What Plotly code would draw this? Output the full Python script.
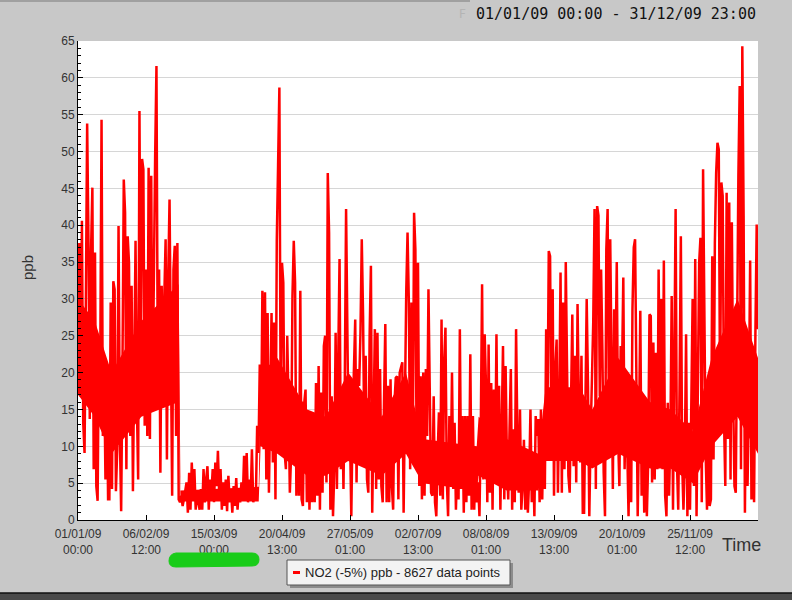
import pandas as pd
import plotly.graph_objects as go

# ---------------- data (NO2 ppb, evenly spaced over 2009) ----------------
no2_jan_feb = [20.5, 37.6, 18.6, 40.6, 13.2, 9.1, 29.5, 53.8, 38.1, 13.7, 36.7, 45.1, 6.9, 36.3,
               4.6, 2.6, 25.0, 20.5, 54.3, 11.4, 20.5, 5.5, 20.5, 2.8, 2.8, 29.5, 4.2, 32.4, 31.3,
               3.9, 9.6, 39.9, 11.4, 1.2, 20.5, 46.2, 41.7, 6.9, 38.5, 34.9, 11.4, 31.8, 3.9, 25.0,
               37.9, 15.9, 5.5, 55.5, 20.5, 49.0, 47.6, 12.8, 34.0, 11.4, 47.8, 11.0, 46.7, 15.9,
               35.8, 49.4, 61.6, 20.5, 34.0, 6.4, 31.8, 15.9, 30.4, 38.1, 8.2, 33.1, 43.5, 18.2,
               3.3, 34.0, 37.2, 11.4, 37.6, 2.8, 2.4, 3.3, 1.9, 2.8, 3.7, 5.1, 1.0, 6.4]
no2_mar_apr = [1.4, 7.8, 3.3, 6.9, 1.4, 3.7, 2.4, 1.4, 4.2, 1.4, 6.9, 2.4, 5.5, 7.3, 1.4, 5.5,
               3.3, 6.9, 2.4, 7.8, 4.6, 9.4, 3.3, 6.9, 1.4, 5.1, 1.9, 5.5, 1.2, 6.0, 2.4, 4.2,
               1.0, 4.6, 1.9, 5.7, 1.4, 4.2, 2.4, 5.1, 2.8, 8.7, 3.7, 9.1, 2.4, 5.5, 2.8, 9.6,
               2.4, 3.3, 2.8, 12.8, 9.1, 21.1, 11.4, 31.1, 9.6, 30.9, 5.5, 28.1, 3.7, 20.5, 28.1,
               7.8, 26.8, 2.8, 37.9, 48.1, 58.7, 13.7, 34.9, 32.2, 9.1, 6.9, 25.0, 15.9, 3.7, 9.1,
               30.4, 37.9, 32.2, 3.3, 15.0, 3.3, 31.1, 2.8, 1.9, 15.9]
no2_may_jun = [17.7, 2.4, 14.3, 1.4, 10.0, 2.4, 9.6, 2.4, 18.6, 3.3, 20.9, 1.4, 17.3, 3.7, 23.6,
               25.0, 5.1, 47.1, 39.0, 1.4, 16.8, 0.5, 6.9, 25.4, 4.2, 21.8, 35.4, 6.9, 16.4, 4.2,
               18.2, 42.2, 25.0, 9.1, 11.4, 0.5, 13.7, 22.3, 27.2, 5.1, 20.5, 18.2, 25.4, 38.1,
               27.7, 9.1, 22.3, 5.5, 3.7, 25.0, 34.5, 1.0, 16.8, 25.9, 4.2, 25.4, 5.5, 20.5, 4.6,
               2.4, 15.9, 26.6, 2.4, 18.2, 2.4, 19.1, 4.6, 1.4, 15.9, 19.3, 19.5, 2.8, 20.0, 20.9,
               21.4, 1.0, 20.5, 30.9, 39.0, 29.5, 6.9, 29.5, 7.8, 41.7, 36.7, 7.3, 34.9, 4.6, 19.5, 2.8]
no2_jul_aug = [20.0, 3.3, 20.5, 11.4, 31.3, 20.0, 3.7, 3.3, 16.8, 2.4, 0.5, 8.7, 14.6, 3.3, 27.2,
               2.8, 21.4, 26.1, 5.5, 0.5, 14.1, 5.5, 20.0, 4.2, 13.2, 1.4, 7.8, 2.8, 25.9, 4.2,
               14.1, 1.0, 14.1, 2.4, 14.1, 3.3, 22.5, 1.4, 14.1, 1.4, 9.1, 2.4, 5.1, 0.5, 12.3,
               32.0, 5.5, 25.2, 18.2, 2.4, 23.8, 3.7, 18.6, 1.4, 17.7, 6.9, 25.2, 5.5, 18.2, 1.4,
               12.8, 23.6, 2.8, 20.9, 7.8, 2.8, 12.3, 20.5, 1.4, 12.3, 2.4, 25.9, 11.4, 3.7, 15.0,
               1.4, 4.6, 10.9, 1.4, 9.6, 1.0, 5.5, 15.0, 2.4, 8.7, 0.5, 14.1, 11.4]
no2_sep_oct = [13.7, 2.4, 15.0, 2.8, 13.7, 4.2, 25.9, 13.7, 36.5, 35.8, 9.1, 31.3, 3.3, 20.5, 24.5,
               3.7, 15.9, 33.6, 3.7, 29.5, 6.9, 35.0, 20.5, 6.0, 3.7, 20.5, 27.9, 7.3, 22.3, 5.1,
               29.3, 15.9, 7.8, 22.3, 1.0, 1.0, 20.5, 30.0, 18.2, 0.5, 11.4, 20.5, 26.8, 42.2, 4.2,
               42.6, 41.3, 16.8, 34.0, 23.2, 6.4, 0.5, 36.7, 42.2, 13.7, 38.1, 20.5, 4.2, 28.6,
               20.5, 35.0, 11.4, 4.6, 23.6, 20.0, 32.9, 6.9, 18.2, 10.0, 0.5, 13.2, 2.4, 28.6, 37.0,
               38.1, 22.7, 0.5, 12.3, 28.4, 3.3, 13.2, 1.0, 15.9, 0.5, 7.8, 27.9, 27.7]
no2_nov_dec = [5.1, 24.1, 5.5, 22.7, 6.9, 34.0, 13.2, 30.0, 6.9, 35.2, 3.3, 0.5, 15.9, 3.3, 11.4,
               30.4, 1.4, 18.2, 42.2, 7.8, 1.4, 17.7, 38.5, 7.8, 1.4, 7.8, 25.2, 0.5, 13.2, 1.4,
               13.7, 30.0, 4.6, 35.4, 0.5, 18.2, 34.9, 38.3, 2.4, 47.6, 20.5, 8.7, 1.4, 15.9, 1.9,
               2.8, 35.8, 8.2, 37.5, 47.1, 51.2, 50.3, 15.9, 45.8, 44.0, 13.7, 4.6, 44.4, 11.0,
               43.1, 5.5, 40.4, 16.8, 4.6, 3.7, 29.5, 46.7, 58.9, 6.9, 64.3, 41.3, 1.0, 22.7, 4.6,
               15.9, 35.2, 2.8, 12.3, 2.4, 25.0, 40.1, 25.9]

# dense core of the hourly record (the solidly filled part of the trace)
core_dates = ["2009-01-01 00:00", "2009-01-10 00:00", "2009-01-19 00:00", "2009-02-04 00:00",
              "2009-02-24 00:00", "2009-02-25 00:00", "2009-04-08 00:00", "2009-04-09 00:00",
              "2009-04-18 00:00", "2009-05-04 00:00", "2009-05-14 00:00", "2009-05-26 00:00",
              "2009-06-13 00:00", "2009-06-26 00:00", "2009-07-05 00:00", "2009-08-03 00:00",
              "2009-08-04 00:00", "2009-08-19 00:00", "2009-09-05 00:00", "2009-09-09 00:00",
              "2009-09-27 00:00", "2009-10-04 00:00", "2009-10-18 00:00", "2009-11-04 00:00",
              "2009-11-15 00:00", "2009-11-27 00:00", "2009-12-07 00:00", "2009-12-21 00:00",
              "2009-12-31 23:00"]
core_low = [17, 14, 9, 14, 16, 2.5, 2.5, 10, 9, 6, 6, 8, 6, 9, 5, 4, 6, 4, 4, 8, 8, 7, 9, 7, 7, 5,
            10, 14, 9]
core_high = [30, 27, 20, 27, 32, 4, 4.5, 20, 22, 15, 14, 20, 14, 20, 11, 10, 14, 11, 9, 18, 18, 15,
             22, 16, 15, 12, 22, 30, 22]

period_start = "2009-01-01 00:00"
period_end = "2009-12-31 23:00"
series_name = "NO2 (-5%) ppb - 8627 data points"
y_ticks = list(range(0, 70, 5))
x_tick_labels = ["01/01/09 00:00", "06/02/09 12:00", "15/03/09 00:00", "20/04/09 13:00",
                 "27/05/09 01:00", "02/07/09 13:00", "08/08/09 01:00", "13/09/09 13:00",
                 "20/10/09 01:00", "25/11/09 12:00"]

# ---------------- build ----------------
values = no2_jan_feb + no2_mar_apr + no2_may_jun + no2_jul_aug + no2_sep_oct + no2_nov_dec
times = pd.date_range(period_start, period_end, periods=len(values))
tick_times = [pd.to_datetime(s, format="%d/%m/%y %H:%M") for s in x_tick_labels]
tick_text = [s.replace(" ", "<br>") for s in x_tick_labels]
core_t = list(pd.to_datetime(core_dates, format="%Y-%m-%d %H:%M"))

W, H = 792, 600
L, R, T, B = 78, 758, 41, 520


def px(x):
    return (x - L) / (R - L)


def py(y):
    return (B - y) / (B - T)


NARROW = "Liberation Sans Narrow, Arial Narrow, Liberation Sans, sans-serif"
BG = "#c8c8c8"
RED = "#ff0000"

fig = go.Figure()
fig.add_trace(go.Scatter(x=core_t + core_t[::-1], y=core_low + core_high[::-1],
                         mode="lines", fill="toself", fillcolor=RED, line=dict(width=0, color=RED),
                         hoverinfo="skip", showlegend=False))
fig.add_trace(go.Scatter(x=times, y=values, mode="lines", name=series_name,
                         line=dict(color=RED, width=2.5), showlegend=False))

fig.update_layout(
    width=W, height=H, autosize=False,
    margin=dict(l=L, r=W - R, t=T, b=H - B),
    paper_bgcolor=BG, plot_bgcolor="white",
    showlegend=False,
    xaxis=dict(type="date", range=[period_start, period_end],
               tickvals=tick_times, ticktext=tick_text,
               ticks="inside", ticklen=5, tickcolor="black", ticklabelstandoff=3,
               showline=True, linecolor="black", linewidth=1,
               showgrid=False, zeroline=False,
               tickfont=dict(family=NARROW, size=12, color="#333333")),
    yaxis=dict(range=[0, 65], tickvals=y_ticks,
               ticks="inside", ticklen=5, tickcolor="black",
               minor=dict(dtick=1, ticks="inside", ticklen=3, tickcolor="black", showgrid=False),
               showline=True, linecolor="black", linewidth=1,
               showgrid=True, gridcolor="#d6d6d6", gridwidth=1, zeroline=False,
               tickfont=dict(family=NARROW, size=12, color="#333333")),
)

shapes = []
# top darker strip and bottom dark band of the window
shapes.append(dict(type="rect", xref="paper", yref="paper", x0=px(0), x1=px(470), y0=py(0), y1=py(2),
                   fillcolor="#a0a0a0", line=dict(width=0), layer="below"))
shapes.append(dict(type="rect", xref="paper", yref="paper", x0=px(0), x1=px(W), y0=py(593), y1=py(H),
                   fillcolor="#4a4a4a", line=dict(width=0)))
shapes.append(dict(type="line", xref="paper", yref="paper", x0=px(0), x1=px(W), y0=py(593), y1=py(593),
                   line=dict(color="#111111", width=1.5)))
# legend box with shadow
shapes.append(dict(type="rect", xref="paper", yref="paper", x0=px(290), x1=px(513), y0=py(563), y1=py(588),
                   fillcolor="#8c8c8c", line=dict(width=0)))
shapes.append(dict(type="rect", xref="paper", yref="paper", x0=px(287), x1=px(510), y0=py(560), y1=py(585),
                   fillcolor="#f3f3f3", line=dict(color="#555555", width=1)))
shapes.append(dict(type="line", xref="paper", yref="paper", x0=px(293), x1=px(300), y0=py(572.5), y1=py(572.5),
                   line=dict(color=RED, width=3)))
# green highlighter mark
pts = [(176, 553), (252, 553), (259, 553), (259, 559.5), (259, 566), (252, 566),
       (176, 567), (169, 567), (169, 561), (169, 554), (176, 553)]
p = [(px(a), py(b)) for a, b in pts]
path = (f"M {p[0][0]},{p[0][1]} L {p[1][0]},{p[1][1]} Q {p[2][0]},{p[2][1]} {p[3][0]},{p[3][1]} "
        f"Q {p[4][0]},{p[4][1]} {p[5][0]},{p[5][1]} L {p[6][0]},{p[6][1]} "
        f"Q {p[7][0]},{p[7][1]} {p[8][0]},{p[8][1]} Q {p[9][0]},{p[9][1]} {p[10][0]},{p[10][1]} Z")
shapes.append(dict(type="path", xref="paper", yref="paper", path=path,
                   fillcolor="#19cc19", line=dict(color="#19cc19", width=1)))
fig.update_layout(shapes=shapes)

annotations = [
    dict(text=f"{pd.to_datetime(period_start):%d/%m/%y %H:%M} - {pd.to_datetime(period_end):%d/%m/%y %H:%M}",
         xref="paper", yref="paper", x=px(758), y=py(14), xanchor="right", yanchor="middle",
         showarrow=False, font=dict(family="DejaVu Sans Mono", size=15, color="#111111")),
    dict(text="F", xref="paper", yref="paper", x=px(462), y=py(14), xanchor="center", yanchor="middle",
         showarrow=False, font=dict(family="DejaVu Sans", size=12, color="#b4b4b4")),
    dict(text="ppb", xref="paper", yref="paper", x=px(27), y=py(268), xanchor="center", yanchor="middle",
         textangle=-90, showarrow=False, font=dict(family="Liberation Sans, sans-serif", size=15, color="#333333")),
    dict(text="Time", xref="paper", yref="paper", x=px(741), y=py(545), xanchor="center", yanchor="middle",
         showarrow=False, font=dict(family=NARROW, size=18, color="#333333")),
    dict(text=series_name, xref="paper", yref="paper", x=px(303), y=py(572.5), xanchor="left", yanchor="middle",
         showarrow=False, font=dict(family=NARROW, size=13, color="#222222")),
]
fig.update_layout(annotations=annotations)

fig.write_html("out.html")
